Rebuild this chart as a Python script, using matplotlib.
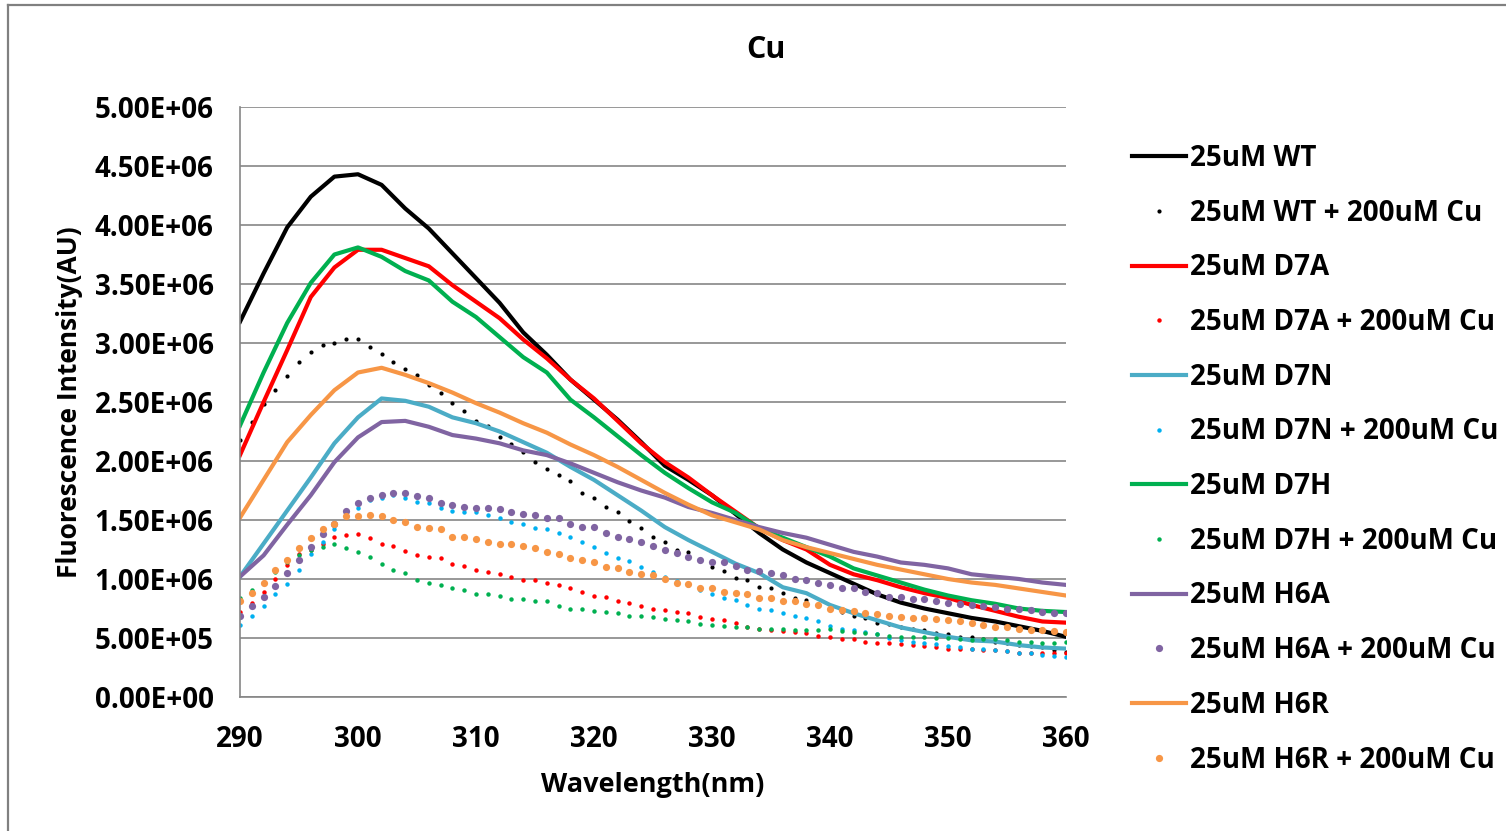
from matplotlib import pyplot as plt
from matplotlib.lines import Line2D

# wavelengths (nm): solid spectra read every 2 nm, Cu-quenched spectra every 1 nm
wl = list(range(290, 361, 2))
wl_fine = list(range(290, 361))

# fluorescence intensity, units of 1e6 AU
wt = [3.18, 3.59, 3.98, 4.24, 4.41, 4.43, 4.34, 4.14, 3.97, 3.76, 3.55, 3.34,
      3.09, 2.90, 2.69, 2.52, 2.35, 2.16, 1.96, 1.84, 1.71, 1.55, 1.39, 1.25,
      1.14, 1.05, 0.96, 0.87, 0.80, 0.75, 0.71, 0.67, 0.64, 0.60, 0.56, 0.51]
d7a = [2.05, 2.50, 2.94, 3.39, 3.64, 3.79, 3.79, 3.72, 3.65, 3.49, 3.35, 3.21,
       3.03, 2.87, 2.69, 2.53, 2.34, 2.15, 1.99, 1.86, 1.71, 1.57, 1.43, 1.33,
       1.25, 1.12, 1.04, 0.99, 0.93, 0.88, 0.84, 0.78, 0.73, 0.68, 0.64, 0.63]
d7n = [1.02, 1.30, 1.58, 1.86, 2.15, 2.37, 2.53, 2.51, 2.46, 2.37, 2.32, 2.25,
       2.16, 2.07, 1.95, 1.84, 1.71, 1.58, 1.44, 1.33, 1.23, 1.13, 1.05, 0.93,
       0.88, 0.78, 0.71, 0.65, 0.59, 0.55, 0.51, 0.48, 0.47, 0.44, 0.42, 0.41]
d7h = [2.30, 2.75, 3.17, 3.51, 3.75, 3.81, 3.73, 3.61, 3.53, 3.35, 3.22, 3.05,
       2.88, 2.75, 2.52, 2.37, 2.21, 2.05, 1.90, 1.77, 1.65, 1.56, 1.43, 1.35,
       1.27, 1.19, 1.09, 1.03, 0.97, 0.91, 0.86, 0.82, 0.79, 0.75, 0.73, 0.72]
h6a = [1.02, 1.20, 1.46, 1.71, 1.99, 2.20, 2.33, 2.34, 2.29, 2.22, 2.19, 2.15,
       2.09, 2.05, 1.98, 1.90, 1.82, 1.75, 1.69, 1.61, 1.56, 1.50, 1.44, 1.39,
       1.35, 1.29, 1.23, 1.19, 1.14, 1.12, 1.09, 1.04, 1.02, 1.00, 0.97, 0.95]
h6r = [1.52, 1.84, 2.16, 2.39, 2.60, 2.75, 2.79, 2.73, 2.66, 2.58, 2.49, 2.41,
       2.32, 2.24, 2.14, 2.05, 1.95, 1.84, 1.73, 1.63, 1.54, 1.48, 1.42, 1.33,
       1.27, 1.22, 1.17, 1.12, 1.08, 1.04, 1.00, 0.97, 0.95, 0.92, 0.89, 0.86]

wt_cu = [2.18, 2.33, 2.48, 2.60, 2.72, 2.84, 2.92, 2.98, 3.00, 3.03, 3.03, 2.97,
         2.91, 2.84, 2.78, 2.73, 2.64, 2.58, 2.49, 2.42, 2.34, 2.30, 2.20, 2.14,
         2.08, 1.99, 1.93, 1.88, 1.83, 1.73, 1.69, 1.61, 1.57, 1.49, 1.43, 1.36,
         1.31, 1.25, 1.23, 1.16, 1.10, 1.07, 1.01, 0.99, 0.93, 0.92, 0.88, 0.84,
         0.82, 0.78, 0.75, 0.72, 0.69, 0.67, 0.63, 0.62, 0.59, 0.58, 0.57, 0.54,
         0.53, 0.51, 0.51, 0.49, 0.47, 0.46, 0.44, 0.43, 0.42, 0.40, 0.38]
d7a_cu = [0.72, 0.80, 0.89, 1.00, 1.12, 1.21, 1.25, 1.30, 1.36, 1.37, 1.38, 1.35,
          1.30, 1.28, 1.24, 1.20, 1.19, 1.18, 1.13, 1.11, 1.08, 1.06, 1.04, 1.02,
          0.99, 0.99, 0.97, 0.95, 0.92, 0.89, 0.86, 0.85, 0.81, 0.80, 0.77, 0.75,
          0.74, 0.72, 0.71, 0.68, 0.66, 0.65, 0.63, 0.59, 0.58, 0.57, 0.56, 0.55,
          0.54, 0.52, 0.51, 0.49, 0.49, 0.47, 0.46, 0.46, 0.45, 0.44, 0.43, 0.42,
          0.41, 0.41, 0.41, 0.40, 0.40, 0.39, 0.37, 0.37, 0.37, 0.37, 0.37]
d7n_cu = [0.61, 0.69, 0.77, 0.87, 0.96, 1.08, 1.21, 1.31, 1.42, 1.54, 1.60, 1.67,
          1.69, 1.71, 1.69, 1.65, 1.64, 1.60, 1.58, 1.57, 1.57, 1.54, 1.52, 1.48,
          1.47, 1.43, 1.42, 1.39, 1.36, 1.31, 1.27, 1.22, 1.18, 1.15, 1.10, 1.06,
          1.02, 0.98, 0.95, 0.91, 0.87, 0.84, 0.82, 0.78, 0.75, 0.74, 0.71, 0.69,
          0.67, 0.64, 0.60, 0.58, 0.57, 0.55, 0.53, 0.50, 0.48, 0.47, 0.46, 0.45,
          0.43, 0.42, 0.41, 0.41, 0.40, 0.39, 0.37, 0.37, 0.36, 0.35, 0.34]
d7h_cu = [0.84, 0.91, 0.97, 1.06, 1.14, 1.20, 1.25, 1.27, 1.30, 1.26, 1.23, 1.19,
          1.13, 1.08, 1.05, 0.99, 0.97, 0.95, 0.92, 0.91, 0.87, 0.87, 0.86, 0.83,
          0.83, 0.81, 0.81, 0.77, 0.75, 0.75, 0.73, 0.72, 0.71, 0.69, 0.69, 0.68,
          0.66, 0.65, 0.64, 0.62, 0.61, 0.60, 0.59, 0.59, 0.58, 0.58, 0.58, 0.57,
          0.57, 0.57, 0.58, 0.56, 0.55, 0.54, 0.53, 0.52, 0.51, 0.51, 0.51, 0.50,
          0.50, 0.49, 0.48, 0.49, 0.49, 0.48, 0.47, 0.47, 0.46, 0.46, 0.47]
h6a_cu = [0.69, 0.77, 0.85, 0.94, 1.05, 1.16, 1.27, 1.38, 1.47, 1.58, 1.64, 1.69,
          1.71, 1.73, 1.73, 1.70, 1.69, 1.64, 1.63, 1.61, 1.60, 1.60, 1.59, 1.57,
          1.55, 1.54, 1.52, 1.52, 1.47, 1.44, 1.44, 1.39, 1.36, 1.34, 1.31, 1.28,
          1.25, 1.22, 1.19, 1.16, 1.14, 1.14, 1.11, 1.08, 1.07, 1.05, 1.03, 1.00,
          0.99, 0.97, 0.95, 0.92, 0.92, 0.89, 0.88, 0.85, 0.85, 0.83, 0.83, 0.81,
          0.80, 0.79, 0.78, 0.77, 0.76, 0.75, 0.75, 0.74, 0.72, 0.71, 0.71]
h6r_cu = [0.81, 0.88, 0.97, 1.08, 1.16, 1.26, 1.35, 1.42, 1.47, 1.53, 1.53, 1.54,
          1.53, 1.50, 1.48, 1.44, 1.43, 1.42, 1.36, 1.36, 1.34, 1.31, 1.30, 1.30,
          1.28, 1.26, 1.23, 1.21, 1.18, 1.16, 1.14, 1.10, 1.09, 1.06, 1.04, 1.03,
          1.00, 0.97, 0.96, 0.92, 0.92, 0.89, 0.88, 0.87, 0.84, 0.84, 0.81, 0.81,
          0.79, 0.78, 0.75, 0.74, 0.73, 0.71, 0.70, 0.69, 0.68, 0.67, 0.67, 0.66,
          0.65, 0.64, 0.63, 0.61, 0.59, 0.59, 0.58, 0.57, 0.57, 0.56, 0.55]

yticks = [0, 0.5, 1.0, 1.5, 2.0, 2.5, 3.0, 3.5, 4.0, 4.5, 5.0]
ytick_labels = ['0.00E+00', '5.00E+05', '1.00E+06', '1.50E+06', '2.00E+06', '2.50E+06',
                '3.00E+06', '3.50E+06', '4.00E+06', '4.50E+06', '5.00E+06']

font = ['Open Sans', 'DejaVu Sans']
plt.rcParams['font.family'] = font
plt.rcParams['font.weight'] = 'bold'

figure = plt.figure(figsize=(15.06, 8.31), dpi=100)
axes = figure.add_axes([240 / 1506, 1 - 697 / 831, 826 / 1506, 590 / 831])

# (label, x, y, colour, solid?, marker size)
series = [
    ('25uM WT', wl, wt, '#000000', True, 0),
    ('25uM WT + 200uM Cu', wl_fine, wt_cu, '#000000', False, 3.0),
    ('25uM D7A', wl, d7a, '#FF0000', True, 0),
    ('25uM D7A + 200uM Cu', wl_fine, d7a_cu, '#FF0000', False, 3.2),
    ('25uM D7N', wl, d7n, '#4BACC6', True, 0),
    ('25uM D7N + 200uM Cu', wl_fine, d7n_cu, '#00B0F0', False, 3.2),
    ('25uM D7H', wl, d7h, '#00B050', True, 0),
    ('25uM D7H + 200uM Cu', wl_fine, d7h_cu, '#00B050', False, 3.2),
    ('25uM H6A', wl, h6a, '#8064A2', True, 0),
    ('25uM H6A + 200uM Cu', wl_fine, h6a_cu, '#8064A2', False, 5.2),
    ('25uM H6R', wl, h6r, '#F79646', True, 0),
    ('25uM H6R + 200uM Cu', wl_fine, h6r_cu, '#F79646', False, 5.2),
]
for label, x, y, c, solid, ms in series:
    if solid:
        axes.plot(x, y, '-', color=c, lw=3.0, label=label)
    else:
        axes.plot(x, y, 'o', color=c, ms=ms, mew=0, label=label)

axes.set_xlim(290, 360)
axes.set_ylim(0, 5.0)
axes.set_xticks(range(290, 361, 10))
axes.set_yticks(yticks)
axes.set_yticklabels(ytick_labels)
axes.tick_params(axis='y', length=0, labelsize=20, pad=19)
axes.tick_params(axis='x', length=0, labelsize=20, pad=20)
axes.grid(axis='y', color='#868686', lw=1.2)
axes.set_axisbelow(True)
for s in ['top', 'right']:
    axes.spines[s].set_visible(False)
for s in ['left', 'bottom']:
    axes.spines[s].set_color('#868686')
    axes.spines[s].set_linewidth(1.2)

axes.set_xlabel('Wavelength(nm)', fontsize=19.5, fontweight='bold', labelpad=13)
axes.set_ylabel('Fluorescence Intensity(AU)', fontsize=19, fontweight='bold', labelpad=8)
figure.text(766 / 1506, 1 - 50 / 831, 'Cu', ha='center', va='center', fontsize=22, fontweight='bold')

axes.legend(loc='upper left', bbox_to_anchor=(1118 / 1506, 1 - 130 / 831),
            bbox_transform=figure.transFigure, frameon=False, fontsize=20,
            handlelength=1.95, handletextpad=0.15, labelspacing=0.925, borderpad=0)

# chart area border
figure.add_artist(Line2D([8 / 1506, 8 / 1506], [0, 1 - 5 / 831], color='#808080', lw=1.6))
figure.add_artist(Line2D([8 / 1506, 1], [1 - 5 / 831, 1 - 5 / 831], color='#808080', lw=1.6))

figure.savefig('out.png', dpi=100)
